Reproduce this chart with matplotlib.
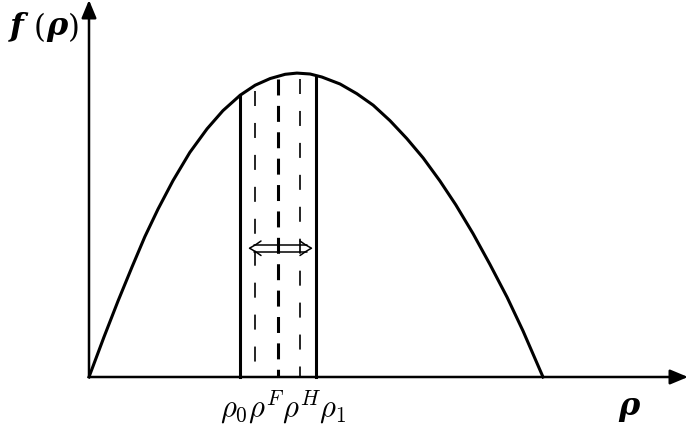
import numpy as np
import matplotlib
matplotlib.use("Agg")
import matplotlib.pyplot as plt
from matplotlib.lines import Line2D

plt.rcParams['mathtext.fontset'] = 'cm'
plt.rcParams['lines.scale_dashes'] = False

# curve f(rho) (rho scaled so the right root is 1, f scaled so the peak is 1)
rho = [0.0, 0.033, 0.064, 0.095, 0.123, 0.152, 0.185, 0.222, 0.260, 0.295,
       0.333, 0.366, 0.399, 0.432, 0.458, 0.487, 0.513, 0.553, 0.590, 0.626,
       0.663, 0.700, 0.736, 0.773, 0.808, 0.846, 0.883, 0.921, 0.956, 1.0]
f = [0.0, 0.132, 0.251, 0.364, 0.463, 0.554, 0.648, 0.741, 0.819, 0.879,
     0.930, 0.963, 0.985, 0.999, 1.003, 1.000, 0.990, 0.967, 0.935, 0.897,
     0.846, 0.787, 0.723, 0.647, 0.568, 0.473, 0.372, 0.263, 0.152, 0.0]

# marked densities: rho_0, rho^F, rho^H, rho_1 and the dashed one between rho_0 and rho^F
rho_solid = [0.333, 0.500]
rho_thin_dash = [0.366, 0.465]
rho_thick_dash = [0.416]

fig = plt.figure(figsize=(6.88, 4.32), dpi=100)
ax = fig.add_axes([0, 0, 1, 1])
ax.axis('off')
xmax, ymax = 599 / 454, 377 / 303
ax.set_xlim(-89 / 454, xmax)
ax.set_ylim(-55 / 303, ymax)

ax.plot(rho, f, color='k', lw=2.2, solid_joinstyle='round', zorder=3)

for r in rho_solid:
    ax.plot([r, r], [0, np.interp(r, rho, f)], color='k', lw=2.2)
for r in rho_thin_dash:
    ax.plot([r, r], [np.interp(r, rho, f) - 0.02, 0], color='k', lw=1.2,
            dashes=(10.8, 12.2))
for r in rho_thick_dash:
    ax.plot([r, r], [np.interp(r, rho, f) - 0.01, 0], color='k', lw=2.2,
            dashes=(11.5, 7.5))

# axes with arrow heads
arr = dict(arrowstyle='-|>,head_length=0.6,head_width=0.25', color='k', lw=1.8,
           mutation_scale=18, shrinkA=0, shrinkB=0)
ax.annotate('', xy=(xmax, 0), xytext=(0, 0), arrowprops=arr)
ax.annotate('', xy=(0, ymax), xytext=(0, 0), arrowprops=arr)

W, H = 688, 432
def fx(x):
    return x / W
def fy(y):
    return 1 - y / H

def pline(xs, ys, lw=1.1):
    fig.add_artist(Line2D([fx(x) for x in xs], [fy(y) for y in ys],
                          transform=fig.transFigure, color='k', lw=lw,
                          solid_capstyle='round', solid_joinstyle='round'))

# double arrow (<=>) between rho_0 and rho_1
pline([254, 307], [245, 245])
pline([254, 307], [251.5, 251.5])
pline([261, 256, 252, 249.5, 252, 256, 261], [241, 244.5, 246.8, 248.2, 249.6, 252, 255.5])
pline([300, 305, 309, 311.5, 309, 305, 300], [241, 244.5, 246.8, 248.2, 249.6, 252, 255.5])

fig.text(fx(283), fy(417), r'$\rho_0\rho^F\rho^H\rho_1$', fontsize=22,
         ha='center', va='baseline')

bi = dict(family='DejaVu Serif', style='italic', weight='bold', fontsize=23,
          va='baseline')
fig.text(fx(629), fy(415), 'ρ', ha='center', **bi)
fig.text(fx(10), fy(35), 'f', ha='left', **bi)
fig.text(fx(34), fy(37), '(', ha='left', family='DejaVu Serif', fontsize=22, va='baseline')
fig.text(fx(46), fy(35), 'ρ', ha='left', **bi)
fig.text(fx(68), fy(37), ')', ha='left', family='DejaVu Serif', fontsize=22, va='baseline')

fig.savefig('out.png', dpi=100)
